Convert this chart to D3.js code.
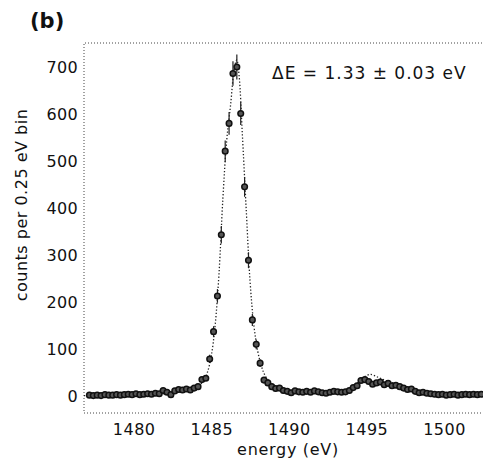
<!DOCTYPE html>
<html>
<head>
<meta charset="utf-8">
<script src="https://cdn.jsdelivr.net/npm/d3@7"></script>
<style>
  body { margin: 0; background: #fff; }
  text { font-family: "DejaVu Sans", Verdana, sans-serif; fill: #111; }
</style>
</head>
<body>
<script>
// histogram: 0.25 eV bins, first bin centre
const binStart = 1477.15;
const binWidth = 0.25;
const counts = [
  2, 1, 2, 1, 3, 2, 2, 3, 2, 3,
  4, 3, 5, 3, 4, 5, 4, 6, 5, 12,
  8, 3, 11, 14, 13, 15, 13, 17, 20, 35,
  38, 79, 137, 213, 343, 521, 580, 686, 700, 601,
  445, 289, 162, 110, 70, 34, 28, 20, 16, 17,
  12, 10, 7, 11, 9, 8, 10, 8, 11, 9,
  7, 6, 8, 10, 9, 8, 9, 12, 18, 22,
  33, 35, 31, 25, 28, 30, 24, 27, 22, 23,
  20, 17, 14, 15, 10, 7, 8, 6, 5, 4,
  3, 4, 2, 3, 4, 2, 3, 4, 3, 4, 3, 4
];

// fitted curve
const fitE = [1476.8, 1479, 1481, 1482, 1483, 1483.5, 1484, 1484.5, 1484.75, 1485, 1485.25, 1485.5,
  1485.75, 1486, 1486.25, 1486.5, 1486.65, 1486.8, 1487, 1487.25, 1487.5, 1487.75, 1488, 1488.25,
  1488.5, 1489, 1489.5, 1490, 1491, 1492, 1493, 1493.75, 1494.25, 1494.75, 1495.25, 1495.75,
  1496.25, 1497, 1497.75, 1498.5, 1499.5, 1500.5, 1502.5];
const fitY = [1, 2, 3, 5, 9, 12, 18, 32, 50, 85, 150, 260,
  420, 545, 620, 700, 715, 680, 560, 400, 245, 150, 95, 62,
  42, 24, 15, 11, 8, 8, 9, 12, 22, 38, 46, 40,
  33, 25, 17, 10, 5, 3, 2];

const xTicks = [1480, 1485, 1490, 1495, 1500];
const yTicks = [0, 100, 200, 300, 400, 500, 600, 700];

const width = 483, height = 462;
const margin = { left: 84, top: 43, right: 1, bottom: 49 };
const innerWidth = width - margin.left - margin.right;
const innerHeight = height - margin.top - margin.bottom;

const svg = d3.select('body').append('svg')
  .attr('width', width)
  .attr('height', height);

const g = svg.append('g')
  .attr('transform', `translate(${margin.left},${margin.top})`);

const xScale = d3.scaleLinear()
  .domain([1476.8, 1502.45])
  .range([0, innerWidth]);

const yScale = d3.scaleLinear()
  .domain([-36, 751])
  .range([innerHeight, 0]);

// dotted frame (top, left, bottom)
g.append('path')
  .attr('d', `M${innerWidth},0H0V${innerHeight}H${innerWidth}`)
  .attr('fill', 'none')
  .attr('stroke', '#444')
  .attr('stroke-width', 1)
  .attr('stroke-dasharray', '1,2');

const xAxis = d3.axisBottom(xScale).tickValues(xTicks).tickSize(0).tickPadding(11).tickFormat(d3.format('d'));
g.append('g')
  .attr('transform', `translate(0,${innerHeight})`)
  .call(xAxis)
  .call(s => s.select('.domain').remove())
  .selectAll('text')
    .style('font-size', '16px')
    .style('letter-spacing', '0.5px');

const yAxis = d3.axisLeft(yScale).tickValues(yTicks).tickSize(0).tickPadding(6);
g.append('g')
  .call(yAxis)
  .call(s => s.select('.domain').remove())
  .selectAll('text')
    .style('font-size', '16px')
    .style('letter-spacing', '0.3px');

// fit line
const line = d3.line()
  .x((d, i) => xScale(fitE[i]))
  .y(d => yScale(d))
  .curve(d3.curveCatmullRom);

g.append('path')
  .datum(fitY)
  .attr('d', line)
  .attr('fill', 'none')
  .attr('stroke', '#222')
  .attr('stroke-width', 1.3)
  .attr('stroke-dasharray', '1.3,2');

const points = counts.map((c, i) => ({ e: binStart + i * binWidth, c: c }));

// error bars
g.append('g').selectAll('line')
  .data(points)
  .join('line')
    .attr('x1', d => xScale(d.e))
    .attr('x2', d => xScale(d.e))
    .attr('y1', d => yScale(d.c + Math.sqrt(d.c)))
    .attr('y2', d => yScale(d.c - Math.sqrt(d.c)))
    .attr('stroke', '#222')
    .attr('stroke-width', 1.2);

g.append('g').selectAll('circle')
  .data(points)
  .join('circle')
    .attr('cx', d => xScale(d.e))
    .attr('cy', d => yScale(d.c))
    .attr('r', 2.8)
    .attr('fill', '#555')
    .attr('stroke', '#111')
    .attr('stroke-width', 1.5);

// labels
svg.append('text')
  .attr('x', 30).attr('y', 28)
  .style('font-size', '21px')
  .style('font-weight', 'bold')
  .text('(b)');

svg.append('text')
  .attr('transform', 'translate(27,205) rotate(-90)')
  .attr('text-anchor', 'middle')
  .style('font-size', '16px')
  .style('letter-spacing', '0.5px')
  .text('counts per 0.25 eV bin');

svg.append('text')
  .attr('x', 288).attr('y', 455)
  .attr('text-anchor', 'middle')
  .style('font-size', '16px')
  .style('letter-spacing', '0.7px')
  .text('energy (eV)');

svg.append('text')
  .attr('x', 272).attr('y', 79)
  .style('font-size', '17px')
  .style('letter-spacing', '1px')
  .text('ΔE = 1.33 ± 0.03 eV');
</script>
</body>
</html>
